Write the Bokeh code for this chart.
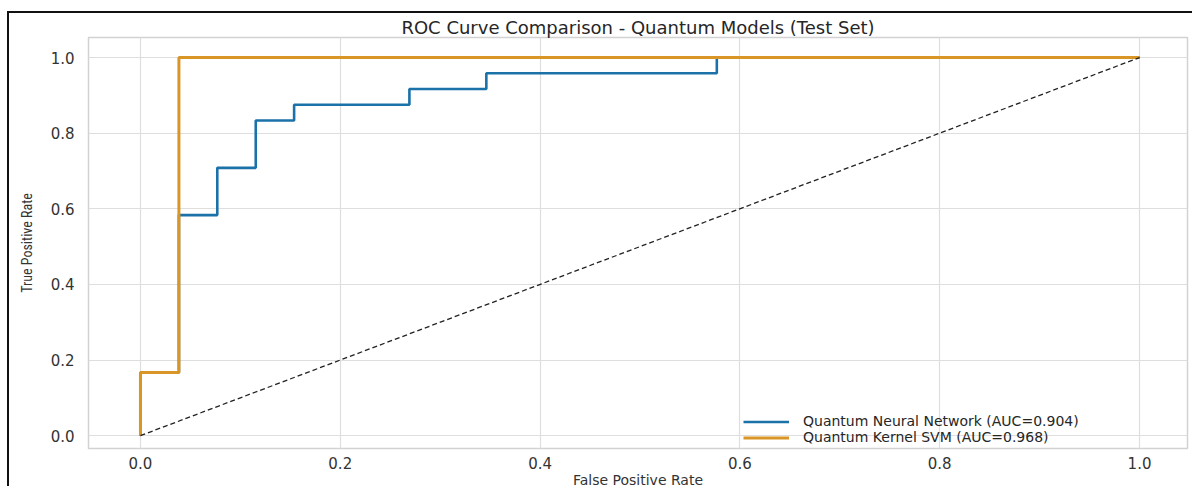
from bokeh.plotting import figure
from bokeh.models import Range1d, FixedTicker, NumeralTickFormatter, Legend, LegendItem
from bokeh.embed import file_html
from bokeh.resources import INLINE

# ---- data ----
qnn_label = "Quantum Neural Network (AUC=0.904)"
qnn_fpr = [0.0, 0.0, 0.0385, 0.0385, 0.0769, 0.0769, 0.1154, 0.1154, 0.1538, 0.1538,
           0.2692, 0.2692, 0.3462, 0.3462, 0.5769, 0.5769, 1.0]
qnn_tpr = [0.0, 0.1667, 0.1667, 0.5833, 0.5833, 0.7083, 0.7083, 0.8333, 0.8333, 0.875,
           0.875, 0.9167, 0.9167, 0.9583, 0.9583, 1.0, 1.0]

svm_label = "Quantum Kernel SVM (AUC=0.968)"
svm_fpr = [0.0, 0.0, 0.0385, 0.0385, 1.0]
svm_tpr = [0.0, 0.1667, 0.1667, 1.0, 1.0]

diag_x = [0.0, 1.0]
diag_y = [0.0, 1.0]

ticks = [0.0, 0.2, 0.4, 0.6, 0.8, 1.0]

title_text = "ROC Curve Comparison - Quantum Models (Test Set)"
x_label = "False Positive Rate"
y_label = "True Positive Rate"

FONT = "DejaVu Sans"
NARROW = "'Liberation Sans Narrow', 'Arial Narrow', 'Roboto Condensed', 'Liberation Sans', sans-serif"

p = figure(
    frame_width=1099, frame_height=411,
    min_border_left=79, min_border_right=5, min_border_top=24, min_border_bottom=36,
    x_range=Range1d(-0.052, 1.048), y_range=Range1d(-0.034, 1.053),
    output_backend="svg", toolbar_location=None, title=title_text,
    background_fill_color="white", border_fill_color="white",
)
p.styles = {"border-left": "2px solid #111111", "border-top": "2px solid #111111",
            "margin-left": "7px", "margin-top": "11px"}

p.title.align = "center"
p.title.text_font = FONT
p.title.text_font_size = "18px"
p.title.text_font_style = "normal"
p.title.text_color = "#262626"
p.title.standoff = 0

for ax in (p.xaxis[0], p.yaxis[0]):
    ax.ticker = FixedTicker(ticks=ticks)
    ax.formatter = NumeralTickFormatter(format="0.0")
    ax.axis_line_color = None
    ax.major_tick_line_color = None
    ax.minor_tick_line_color = None
    ax.major_label_text_font = FONT
    ax.major_label_text_font_size = "15px"
    ax.major_label_text_color = "#333333"
    ax.axis_label_text_font_style = "normal"
    ax.axis_label_text_color = "#333333"

p.xaxis.axis_label = x_label
p.xaxis.axis_label_text_font = FONT
p.xaxis.axis_label_text_font_size = "14px"
p.xaxis.major_label_standoff = 2
p.xaxis.axis_label_standoff = 0

p.yaxis.axis_label = y_label
p.yaxis.axis_label_text_font = NARROW
p.yaxis.axis_label_text_font_size = "14px"
p.yaxis.major_label_standoff = 8
p.yaxis.axis_label_standoff = 13

p.xgrid.ticker = FixedTicker(ticks=ticks)
p.ygrid.ticker = FixedTicker(ticks=ticks)
p.grid.grid_line_color = "#dedede"
p.grid.grid_line_width = 1.2

p.outline_line_color = "#d2d2d2"
p.outline_line_width = 1.5

r_qnn = p.line(qnn_fpr, qnn_tpr, line_color="#1A72A9", line_width=2.6)
r_svm = p.line(svm_fpr, svm_tpr, line_color="#D99626", line_width=3)
p.line(diag_x, diag_y, line_color="#222222", line_width=1.3, line_dash="5 3")

legend = Legend(
    items=[LegendItem(label=qnn_label, renderers=[r_qnn]),
           LegendItem(label=svm_label, renderers=[r_svm])],
    location=(653, 1),
)
legend.background_fill_alpha = 0
legend.border_line_alpha = 0
legend.label_text_font = FONT
legend.label_text_font_size = "14px"
legend.label_text_color = "#262626"
legend.glyph_width = 46
legend.glyph_height = 15
legend.label_height = 15
legend.label_standoff = 14
legend.spacing = -2
legend.padding = 2
legend.margin = 0
p.add_layout(legend, "center")

open("out.html", "w").write(file_html(p, INLINE))
